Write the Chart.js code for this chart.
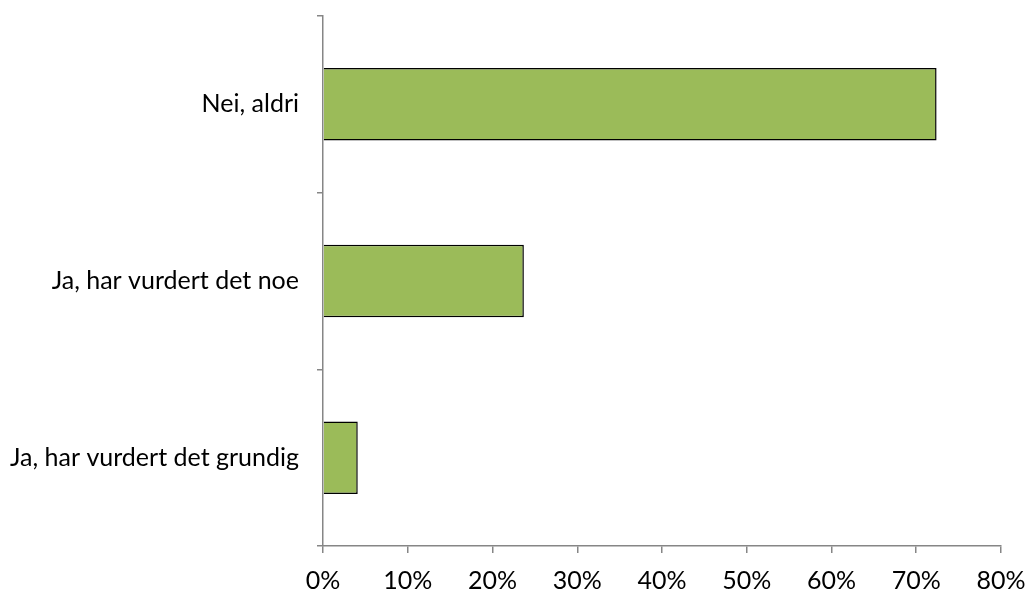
<!DOCTYPE html>
<html>
<head>
<meta charset="utf-8">
<script src="https://cdn.jsdelivr.net/npm/chart.js@4"></script>
<style>
  html, body { margin: 0; padding: 0; background: #fff; }
  #wrap { width: 1026px; height: 591px; }
</style>
</head>
<body>
<div id="wrap"><canvas id="chart" width="1026" height="591"></canvas></div>
<script>
const categories = ['Nei, aldri', 'Ja, har vurdert det noe', 'Ja, har vurdert det grundig'];
const shares = [0.724, 0.237, 0.041];
const xTicks = [0, 0.1, 0.2, 0.3, 0.4, 0.5, 0.6, 0.7, 0.8];

const axisGrey = '#868686';
const font = { family: 'Lato, "Open Sans", sans-serif', size: 25 };

const ctx = document.getElementById('chart').getContext('2d');
new Chart(ctx, {
  type: 'bar',
  data: {
    labels: categories,
    datasets: [{
      data: shares,
      backgroundColor: '#9bbb59',
      borderColor: '#000',
      borderWidth: 1.5,
      barPercentage: 0.41,
      categoryPercentage: 1,
    }],
  },
  options: {
    indexAxis: 'y',
    responsive: false,
    animation: false,
    layout: { padding: 0 },
    plugins: { legend: { display: false }, tooltip: { enabled: false } },
    scales: {
      x: {
        min: 0,
        max: 0.8,
        afterBuildTicks: (scale) => { scale.ticks = xTicks.map((v) => ({ value: v })); },
        afterFit: (scale) => {
          scale.height = 45;
          scale.paddingLeft = 0;
          scale.paddingRight = 25;
        },
        border: { color: axisGrey, width: 1.5 },
        grid: { drawOnChartArea: false, drawTicks: true, tickLength: 7, color: axisGrey, lineWidth: 1.5 },
        ticks: {
          color: '#000',
          font,
          padding: 13,
          maxRotation: 0,
          callback: (v) => Math.round(v * 100) + '%',
        },
      },
      y: {
        afterFit: (scale) => {
          scale.width = 323;
          scale.paddingTop = 16;
          scale.paddingBottom = 0;
        },
        border: { color: axisGrey, width: 1.5 },
        grid: { offset: true, drawOnChartArea: false, drawTicks: true, tickLength: 6, color: axisGrey, lineWidth: 1.5 },
        ticks: { color: '#000', font, padding: 18 },
      },
    },
  },
});
</script>
</body>
</html>
